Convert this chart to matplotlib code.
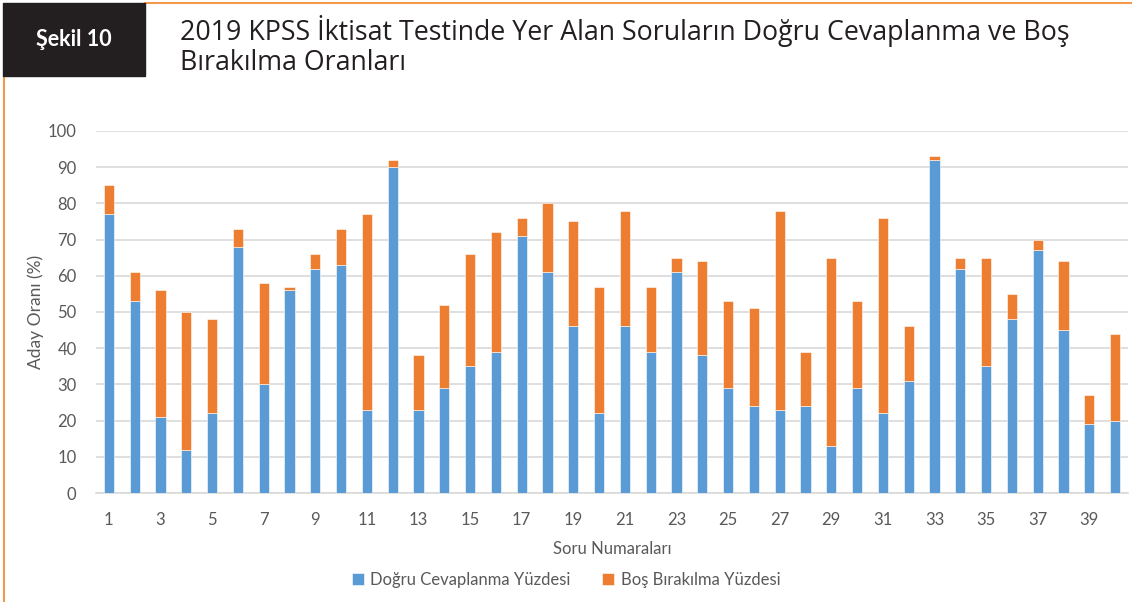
import numpy as np
import matplotlib.pyplot as plt
from matplotlib.patches import Rectangle
from matplotlib.lines import Line2D

# --- Daten ---
soru = list(range(1, 41))
dogru = [77, 53, 21, 12, 22, 68, 30, 56, 62, 63,
         23, 90, 23, 29, 35, 39, 71, 61, 46, 22,
         46, 39, 61, 38, 29, 24, 23, 24, 13, 29,
         22, 31, 92, 62, 35, 48, 67, 45, 19, 20]
toplam = [85, 61, 56, 50, 48, 73, 58, 57, 66, 73,
          77, 92, 38, 52, 66, 72, 76, 80, 75, 57,
          78, 57, 65, 64, 53, 51, 78, 39, 65, 53,
          76, 46, 93, 65, 65, 55, 70, 64, 27, 44]
bos = [t - d for t, d in zip(toplam, dogru)]

xticks = list(range(1, 40, 2))
yticks = list(range(0, 101, 10))

BLUE = "#5B9BD5"
ORANGE = "#ED7D31"
GRID = "#D9D9D9"
TXT = "#595959"
DARK = "#231F20"
FRAME = "#F39A4A"

plt.rcParams["font.family"] = ["Lato", "DejaVu Sans"]
TITLE_FONT = ["Open Sans", "DejaVu Sans"]

fig = plt.figure(figsize=(11.32, 6.02), dpi=100)

# --- Kopfzeile ---
fig.add_artist(Rectangle((3 / 1132, 1 - 76 / 602), 142 / 1132, 73 / 602,
                         transform=fig.transFigure, color=DARK, zorder=5))
fig.text(74 / 1132, 1 - 40 / 602, "Şekil 10", color="white", fontsize=15.5,
         fontweight="bold", ha="center", va="center", zorder=6)
fig.add_artist(Line2D([145 / 1132, 1], [1 - 3 / 602, 1 - 3 / 602],
                      transform=fig.transFigure, color=FRAME, lw=1.5))
fig.add_artist(Line2D([4 / 1132, 4 / 1132], [0, 1 - 76 / 602],
                      transform=fig.transFigure, color=FRAME, lw=1.5))
fig.text(180 / 1132, 1 - 31 / 602,
         "2019 KPSS İktisat Testinde Yer Alan Soruların Doğru Cevaplanma ve Boş",
         color=DARK, fontsize=19.3, ha="left", va="center", family=TITLE_FONT)
fig.text(180 / 1132, 1 - 63 / 602, "Bırakılma Oranları",
         color=DARK, fontsize=19.3, ha="left", va="center", family=TITLE_FONT)

# --- Diagramm ---
ax = fig.add_axes([96 / 1132, 1 - 493 / 602, 1032 / 1132, 362 / 602])
ax.bar(soru, dogru, width=0.4, color=BLUE, edgecolor="white", linewidth=0.4,
       label="Doğru Cevaplanma Yüzdesi", zorder=3)
ax.bar(soru, bos, width=0.4, bottom=dogru, color=ORANGE, edgecolor="white",
       linewidth=0.4, label="Boş Bırakılma Yüzdesi", zorder=3)

ax.set_xlim(0.5, 40.5)
ax.set_ylim(0, 100)
ax.set_xticks(xticks)
ax.set_yticks(yticks)
ax.tick_params(axis="both", length=0, colors=TXT, labelsize=12)
ax.tick_params(axis="x", pad=14)
ax.tick_params(axis="y", pad=14)
ax.yaxis.grid(True, color=GRID, linewidth=1.2, zorder=0)
ax.set_axisbelow(True)
for s in ["top", "right", "left"]:
    ax.spines[s].set_visible(False)
ax.spines["bottom"].set_color(GRID)
ax.spines["bottom"].set_linewidth(1.2)

ax.set_ylabel("Aday Oranı (%)", color=TXT, fontsize=12.5, labelpad=3)
ax.set_xlabel("Soru Numaraları", color=TXT, fontsize=12, labelpad=9)

ax.legend(loc="center", bbox_to_anchor=(0.5, 1 - 580 / 602),
          bbox_transform=fig.transFigure, ncol=2, frameon=False,
          fontsize=12, labelcolor=TXT, handlelength=0.7, handleheight=0.7,
          columnspacing=1.9, handletextpad=0.4)

fig.savefig("out.png", dpi=100)
